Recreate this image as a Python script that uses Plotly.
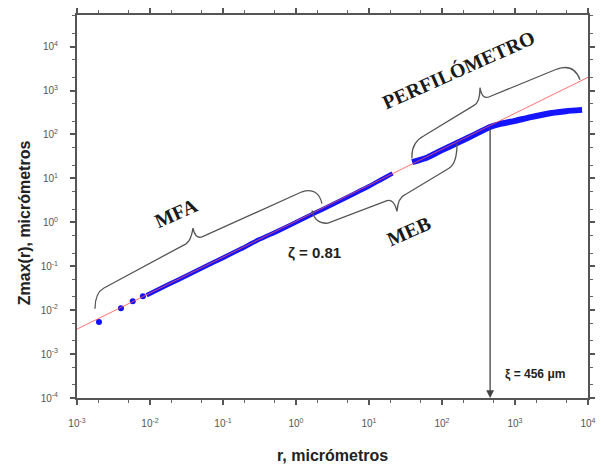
import math
import plotly.graph_objects as go

# ---------------- data ----------------
x_tick_vals = [1e-3, 1e-2, 1e-1, 1e0, 1e1, 1e2, 1e3, 1e4]
x_tick_text = ["10<sup>-3</sup>", "10<sup>-2</sup>", "10<sup>-1</sup>", "10<sup>0</sup>",
               "10<sup>1</sup>", "10<sup>2</sup>", "10<sup>3</sup>", "10<sup>4</sup>"]
y_tick_vals = [1e-4, 1e-3, 1e-2, 1e-1, 1e0, 1e1, 1e2, 1e3, 1e4]
y_tick_text = ["10<sup>-4</sup>", "10<sup>-3</sup>", "10<sup>-2</sup>", "10<sup>-1</sup>",
               "10<sup>0</sup>", "10<sup>1</sup>", "10<sup>2</sup>", "10<sup>3</sup>",
               "10<sup>4</sup>"]

# sparse first AFM points
sparse_r = [0.002, 0.004, 0.0058, 0.008]
sparse_z = [0.0054, 0.0111, 0.0159, 0.0206]

# dense AFM + SEM band
afm_sem_r = [0.009, 0.0178, 0.0316, 0.056, 0.1, 0.178, 0.316, 0.562, 1.0, 1.78, 3.16, 5.62, 10.0, 15.0, 21.0]
afm_sem_z = [0.0219, 0.0382, 0.061, 0.097, 0.155, 0.25, 0.41, 0.63, 1.0, 1.6, 2.55, 4.1, 6.6, 9.6, 13.0]

# profilometer band
prof_r = [39, 63, 100, 158, 251, 456, 631, 1000, 1585, 3162, 5012, 8300]
prof_z = [23.5, 30, 44, 63, 91, 148, 174, 204, 245, 309, 339, 363]

# power-law fit (zeta = 0.81)
fit_r = [1e-3, 1e4]
fit_z = [0.0037, 2000]

zeta_text = "ζ = 0.81"
xi_value = 456
xi_z = 148
xi_text = "ξ = 456 μm"

# ---------------- layout helpers ----------------
# page has an 8px body margin; target plot area on page: x 77..588, y 8..398
OFF = 8
W, H = 606 - OFF, 467 - OFF
PL, PR, PT, PB = 77, 588, 8, 398
L, R, T, B = PL - OFF, W - (PR - OFF), PT - OFF, H - (PB - OFF)
PW, PH = PR - PL, PB - PT


def P(px, py):
    return ((px - PL) / PW, (PB - py) / PH)


def path(cmds):
    out = []
    for c, pts in cmds:
        coords = " ".join("%.5f,%.5f" % P(*p) for p in pts)
        out.append(c + " " + coords)
    return " ".join(out)


brace_mfa = [("M", [(95, 307)]), ("Q", [(95, 291), (104, 286)]), ("L", [(186, 241)]),
             ("Q", [(191, 238), (193, 225)]), ("Q", [(195, 236), (202, 234)]),
             ("L", [(302, 188)]), ("Q", [(318, 183), (322, 200)])]
brace_meb = [("M", [(312, 207)]), ("Q", [(315, 221), (328, 220)]), ("L", [(387, 197)]),
             ("Q", [(394, 195), (397, 208)]), ("Q", [(398, 194), (405, 191)]),
             ("L", [(449, 164)]), ("Q", [(457, 159), (457, 139)])]
brace_prof = [("M", [(412, 154)]), ("Q", [(411, 138), (424, 131)]), ("L", [(474, 100)]),
              ("Q", [(480, 97), (480, 82)]), ("Q", [(482, 95), (490, 91)]),
              ("L", [(557, 63)]), ("Q", [(574, 57), (580, 74)])]

shapes = []
for b in (brace_mfa, brace_meb, brace_prof):
    shapes.append(dict(type="path", xref="paper", yref="paper", path=path(b),
                       line=dict(color="#555555", width=1.3)))

# ---------------- figure ----------------
fig = go.Figure()

fig.add_trace(go.Scatter(x=sparse_r, y=sparse_z, mode="markers",
                         marker=dict(color="#1010ff", size=6), showlegend=False))
fig.add_trace(go.Scatter(x=afm_sem_r, y=afm_sem_z, mode="lines",
                         line=dict(color="#1414ff", width=4.5, shape="spline", smoothing=0.6),
                         showlegend=False))
fig.add_trace(go.Scatter(x=prof_r, y=prof_z, mode="lines",
                         line=dict(color="#1414ff", width=6, shape="spline", smoothing=0.6),
                         showlegend=False))
fig.add_trace(go.Scatter(x=fit_r, y=fit_z, mode="lines",
                         line=dict(color="#ff5050", width=1), opacity=0.8, showlegend=False))

axis_common = dict(type="log", showgrid=False, zeroline=False, showline=True,
                   linecolor="#555555", linewidth=2, mirror="allticks",
                   ticks="outside", ticklen=5, tickwidth=1.5, tickcolor="#555555",
                   tickfont=dict(family="Arial, Liberation Sans", size=10, color="#555555"),
                   minor=dict(ticks="outside", ticklen=3, tickwidth=1, tickcolor="#666666",
                              showgrid=False))

fig.update_xaxes(range=[-3, 4], tickmode="array", tickvals=x_tick_vals, ticktext=x_tick_text,
                 ticklabelstandoff=10, **axis_common)
fig.update_yaxes(range=[-4, 4.72], tickmode="array", tickvals=y_tick_vals, ticktext=y_tick_text,
                 ticklabelstandoff=10, **axis_common)

serif = dict(family="Liberation Serif, Times New Roman", size=20, color="#1a1a1a")
bold_sans = dict(family="Liberation Sans, Arial", size=15, color="#222222")

annotations = []


def ann_px(px, py, text, font, angle=0):
    x, y = P(px, py)
    annotations.append(dict(x=x, y=y, xref="paper", yref="paper", text=text, showarrow=False,
                            font=font, textangle=angle, xanchor="center", yanchor="middle"))


ann_px(176, 210, "<b>MFA</b>", serif, -24)
ann_px(409, 228, "<b>MEB</b>", serif, -24)
ann_px(458, 63, "<b>PERFILÓMETRO</b>", serif, -24)
ann_px(314, 250, "<b>" + zeta_text + "</b>", bold_sans)
ann_px(535, 374, "<b>" + xi_text + "</b>", dict(family="Liberation Sans, Arial", size=12, color="#222222"))
ann_px(332, 457, "<b>r, micrómetros</b>", dict(family="Liberation Sans, Arial", size=16, color="#222222"))
ann_px(24, 220, "<b>Zmax(r), micrómetros</b>", dict(family="Liberation Sans, Arial", size=16, color="#222222"), -90)

# vertical arrow at xi
annotations.append(dict(x=math.log10(xi_value), y=-4, xref="x", yref="y",
                        ax=math.log10(xi_value), ay=math.log10(xi_z), axref="x", ayref="y",
                        text="", showarrow=True, arrowhead=2, arrowsize=1.2, arrowwidth=1.3,
                        arrowcolor="#444444"))

fig.update_layout(width=W, height=H, margin=dict(l=L, r=R, t=T, b=B),
                  paper_bgcolor="white", plot_bgcolor="white",
                  shapes=shapes, annotations=annotations, showlegend=False)

fig.write_html("out.html")
